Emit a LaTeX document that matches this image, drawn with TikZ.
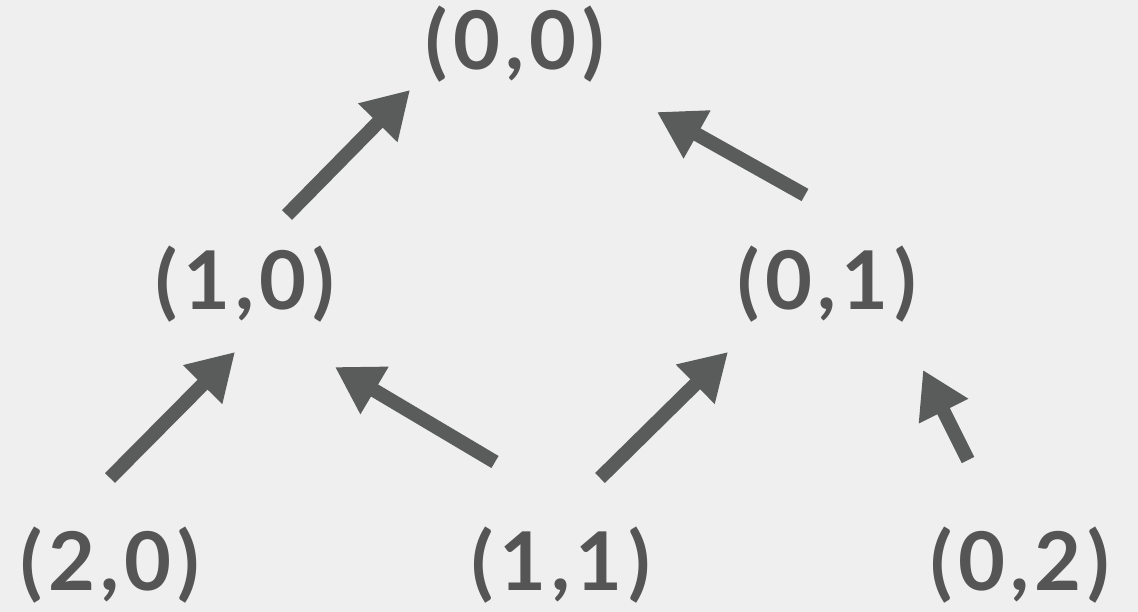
\documentclass[tikz,border=0pt]{standalone}
\usepackage{fontspec}
\setmainfont{Lato}[LetterSpace=6.5]
\usetikzlibrary{arrows.meta}
\definecolor{bg}{HTML}{EFEFF0}
\definecolor{ink}{HTML}{555555}
\definecolor{arr}{HTML}{5A5C5C}
\tikzset{
  lbl/.style={anchor=base, text=ink, inner sep=0pt, font=\fontsize{81}{84}\selectfont\bfseries},
  arrowline/.style={draw=arr, line width=14pt, -{Triangle[length=46pt, width=52pt]}}
}
\begin{document}
\begin{tikzpicture}[x=1pt, y=-1pt]
\fill[bg] (0,0) rectangle (1138,612);
\useasboundingbox (0,0) rectangle (1138,612);
\node[lbl] (n00) at (515,70) {(0,0)};
\node[lbl] (n10) at (245,310) {(1,0)};
\node[lbl] (n01) at (827,310) {(0,1)};
\node[lbl] (n20) at (110,590) {(2,0)};
\node[lbl] (n11) at (561,590) {(1,1)};
\node[lbl] (n02) at (1020,590) {(0,2)};
\coordinate (t1) at (287,215); \coordinate (h1) at (410,90);
\coordinate (t2) at (805,195); \coordinate (h2) at (657,112);
\coordinate (t3) at (110,478); \coordinate (h3) at (235,352);
\coordinate (t4) at (495,462); \coordinate (h4) at (335,367);
\coordinate (t5) at (600,478); \coordinate (h5) at (728,352);
\coordinate (t6) at (968,460); \coordinate (h6) at (923,370);
\draw[arrowline] (t1) -- (h1);
\draw[arrowline] (t2) -- (h2);
\draw[arrowline] (t3) -- (h3);
\draw[arrowline] (t4) -- (h4);
\draw[arrowline] (t5) -- (h5);
\draw[arrowline] (t6) -- (h6);
\end{tikzpicture}
\end{document}
